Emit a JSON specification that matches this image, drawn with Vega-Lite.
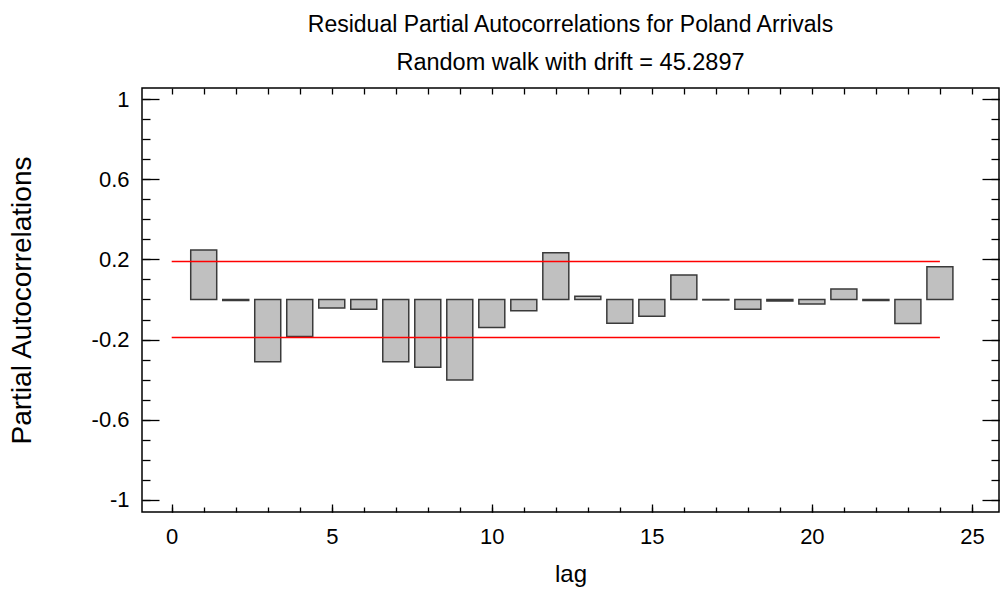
{
  "$schema": "https://vega.github.io/schema/vega-lite/v6.json",
  "width": 857,
  "height": 424,
  "autosize": "none",
  "padding": {"left": 142, "top": 88, "right": 1, "bottom": 81},
  "background": "white",
  "config": {
    "font": "Liberation Sans",
    "view": {"stroke": "#000", "strokeWidth": 1.5},
    "axis": {"grid": false, "domain": false, "tickColor": "#000", "tickWidth": 1.3, "labelColor": "#000", "titleColor": "#000", "labelFont": "Liberation Sans", "titleFont": "Liberation Sans", "labelFontSize": 22, "titleFontSize": 24, "titleFontWeight": "normal"}
  },
  "title": {
    "text": "Residual Partial Autocorrelations for Poland Arrivals",
    "subtitle": "Random walk with drift = 45.2897",
    "font": "Liberation Sans",
    "subtitleFont": "Liberation Sans",
    "fontSize": 23,
    "subtitleFontSize": 23.5,
    "fontWeight": "normal",
    "subtitleFontWeight": "normal",
    "color": "#000",
    "subtitleColor": "#000",
    "anchor": "middle",
    "frame": "group",
    "offset": 13,
    "subtitlePadding": 14
  },
  "datasets": {
    "bars": [
      {"lag": 1, "pacf": 0.247},
      {"lag": 2, "pacf": -0.005},
      {"lag": 3, "pacf": -0.31},
      {"lag": 4, "pacf": -0.185},
      {"lag": 5, "pacf": -0.042},
      {"lag": 6, "pacf": -0.049},
      {"lag": 7, "pacf": -0.31},
      {"lag": 8, "pacf": -0.338},
      {"lag": 9, "pacf": -0.401},
      {"lag": 10, "pacf": -0.14},
      {"lag": 11, "pacf": -0.056},
      {"lag": 12, "pacf": 0.233},
      {"lag": 13, "pacf": 0.016},
      {"lag": 14, "pacf": -0.119},
      {"lag": 15, "pacf": -0.084},
      {"lag": 16, "pacf": 0.122},
      {"lag": 17, "pacf": -0.002},
      {"lag": 18, "pacf": -0.049},
      {"lag": 19, "pacf": -0.008},
      {"lag": 20, "pacf": -0.022},
      {"lag": 21, "pacf": 0.052},
      {"lag": 22, "pacf": -0.005},
      {"lag": 23, "pacf": -0.12},
      {"lag": 24, "pacf": 0.163}
    ],
    "limits": [
      {"limit": 0.19, "from": 0, "to": 24},
      {"limit": -0.19, "from": 0, "to": 24}
    ]
  },
  "resolve": {"axis": {"x": "independent", "y": "independent"}},
  "layer": [
    {
      "data": {"name": "bars"},
      "mark": {"type": "bar", "width": 26, "fill": "#c0c0c0", "stroke": "#3a3a3a", "strokeWidth": 1.5},
      "encoding": {
        "x": {"field": "lag", "type": "quantitative", "scale": {"domain": [-0.772, 25.69], "nice": false, "zero": false},
          "axis": {"orient": "bottom", "values": [0, 5, 10, 15, 20, 25], "ticks": false, "tickSize": 0, "labelPadding": 14, "title": "lag", "titlePadding": 15}},
        "y": {"field": "pacf", "type": "quantitative", "scale": {"domain": [-1.06, 1.055], "nice": false, "zero": false},
          "axis": {"orient": "left", "values": [-1, -0.6, -0.2, 0.2, 0.6, 1], "ticks": false, "tickSize": 0, "labelPadding": 13, "labelExpr": "'' + datum.value", "title": "Partial Autocorrelations", "titleFontSize": 28, "titlePadding": 55}}
      }
    },
    {
      "data": {"name": "bars"},
      "mark": {"type": "point", "opacity": 0},
      "encoding": {
        "x": {"field": "lag", "type": "quantitative", "axis": {"orient": "bottom", "values": [0, 5, 10, 15, 20, 25], "tickSize": -8, "labels": false, "title": null}},
        "y": {"field": "pacf", "type": "quantitative", "axis": {"orient": "left", "values": [-1, -0.6, -0.2, 0.2, 0.6, 1], "tickSize": -17, "labels": false, "title": null}}
      }
    },
    {
      "data": {"name": "bars"},
      "mark": {"type": "point", "opacity": 0},
      "encoding": {
        "x": {"field": "lag", "type": "quantitative", "axis": {"orient": "bottom", "values": [0,1,2,3,4,5,6,7,8,9,10,11,12,13,14,15,16,17,18,19,20,21,22,23,24,25], "tickSize": -5, "labels": false, "title": null}},
        "y": {"field": "pacf", "type": "quantitative", "axis": {"orient": "left", "values": [-1,-0.9,-0.8,-0.7,-0.6,-0.5,-0.4,-0.3,-0.2,-0.1,0,0.1,0.2,0.3,0.4,0.5,0.6,0.7,0.8,0.9,1], "tickSize": -8, "labels": false, "title": null}}
      }
    },
    {
      "data": {"name": "bars"},
      "mark": {"type": "point", "opacity": 0},
      "encoding": {
        "x": {"field": "lag", "type": "quantitative", "axis": {"orient": "top", "values": [0,1,2,3,4,5,6,7,8,9,10,11,12,13,14,15,16,17,18,19,20,21,22,23,24,25], "tickSize": -6, "labels": false, "title": null}},
        "y": {"field": "pacf", "type": "quantitative", "axis": {"orient": "right", "values": [-1, -0.6, -0.2, 0.2, 0.6, 1], "tickSize": -17, "labels": false, "title": null}}
      }
    },
    {
      "data": {"name": "limits"},
      "mark": {"type": "rule", "color": "#ff0000", "strokeWidth": 1.5},
      "encoding": {
        "x": {"field": "from", "type": "quantitative", "axis": null},
        "x2": {"field": "to"},
        "y": {"field": "limit", "type": "quantitative", "axis": {"orient": "right", "values": [-1,-0.9,-0.8,-0.7,-0.6,-0.5,-0.4,-0.3,-0.2,-0.1,0,0.1,0.2,0.3,0.4,0.5,0.6,0.7,0.8,0.9,1], "tickSize": -8, "labels": false, "title": null}}
      }
    }
  ]
}
